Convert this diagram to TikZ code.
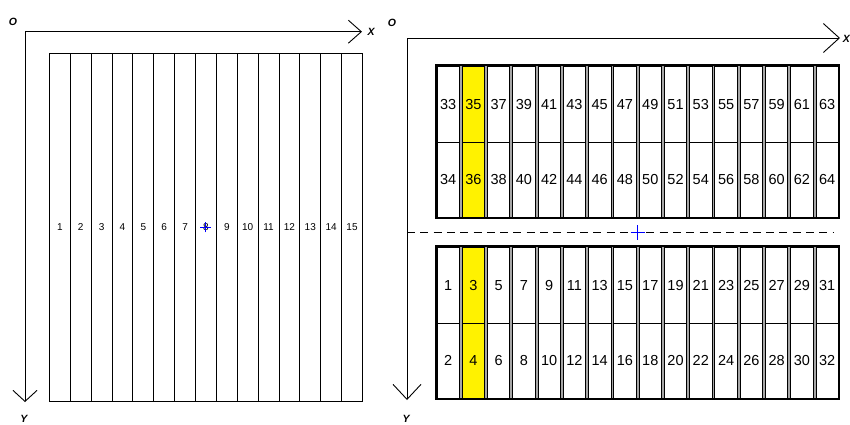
\documentclass[tikz,border=0pt]{standalone}
\usepackage{fontspec}
\setmainfont{Liberation Sans}
\usetikzlibrary{arrows.meta,calc}
\begin{document}
\begin{tikzpicture}[x=1pt,y=-1pt,
  axis/.style={line width=0.9pt},
  strip/.style={draw=black,line width=0.8pt,minimum width=20.87pt,minimum height=348pt,inner sep=0pt,anchor=north west,font=\fontsize{10}{10}\selectfont},
  cell/.style={draw=black,line width=0.8pt,minimum width=22.4pt,minimum height=75.5pt,inner sep=0pt,anchor=north west,font=\fontsize{14.5}{14.5}\selectfont},
  block/.style={fill=black!35,draw=none,minimum width=403pt,minimum height=153pt,inner sep=0pt,anchor=north west},
  blockborder/.style={draw=black,line width=2pt},
  axlabel/.style={font=\fontsize{10.5}{10.5}\selectfont\bfseries\itshape,inner sep=0pt},
  cross/.style={draw=blue,line width=1pt}]
\useasboundingbox (0,0) rectangle (850,424);

% ---------- left panel ----------
\coordinate (O1) at (25,31.7);
\coordinate (X1) at (362,31.7);
\coordinate (Y1) at (25,402);
\draw[axis,-{Straight Barb[length=13pt,width=23pt]}] (O1) -- (X1);
\draw[axis,-{Straight Barb[length=11pt,width=24pt]}] (O1) -- (Y1);
\node[axlabel] (lo) at (13,21.5) {O};
\node[axlabel] (lx) at (371,32) {X};
\node[axlabel] (ly) at (24,419) {Y};

\foreach \i in {1,...,15}{
  \node[strip] (s\i) at ({49+20.87*(\i-1)},53) {\i};
}
\draw[cross] ([xshift=-5.5pt]s8.center) -- ([xshift=5.5pt]s8.center);
\draw[cross] ([yshift=-5pt]s8.center) -- ([yshift=5pt]s8.center);

% ---------- right panel ----------
\coordinate (O2) at (407,38);
\coordinate (X2) at (840,38);
\coordinate (Y2) at (407,400);
\draw[axis,-{Straight Barb[length=16pt,width=29pt]}] (O2) -- (X2);
\draw[axis,-{Straight Barb[length=15pt,width=28pt]}] (O2) -- (Y2);
\node[axlabel] (ro) at (392,23) {O};
\node[axlabel,anchor=east] (rx) at (850,39) {X};
\node[axlabel] (ry) at (406,419) {Y};

\node[block] (UB) at (436,65) {};
\node[block] (LB) at (436,246) {};

\foreach \c in {0,...,15}{
  \pgfmathsetmacro\xx{436.5+25.27*\c}
  \pgfmathtruncatemacro\a{33+2*\c}
  \pgfmathtruncatemacro\b{34+2*\c}
  \pgfmathtruncatemacro\p{1+2*\c}
  \pgfmathtruncatemacro\q{2+2*\c}
  \ifnum\c=1 \def\cellfill{yellow}\else\def\cellfill{white}\fi
  \node[cell,fill=\cellfill] (c\a) at (\xx,66) {\a};
  \node[cell,fill=\cellfill] (c\b) at (\xx,141.5) {\b};
  \node[cell,fill=\cellfill] (c\p) at (\xx,247) {\p};
  \node[cell,fill=\cellfill] (c\q) at (\xx,322.5) {\q};
}
\draw[blockborder] (UB.north west) rectangle (UB.south east);
\draw[blockborder] (LB.north west) rectangle (LB.south east);

\coordinate (d1) at (407,232);
\coordinate (d2) at (834,232);
\draw[line width=0.9pt,dash pattern=on 8pt off 5.3pt] (d1) -- (d2);
\coordinate (mc) at ($(UB.south)!0.5!(LB.north)$);
\draw[cross] ([xshift=-7pt]mc) -- ([xshift=7pt]mc);
\draw[cross] ([yshift=-7.5pt]mc) -- ([yshift=7.5pt]mc);
\end{tikzpicture}
\end{document}
